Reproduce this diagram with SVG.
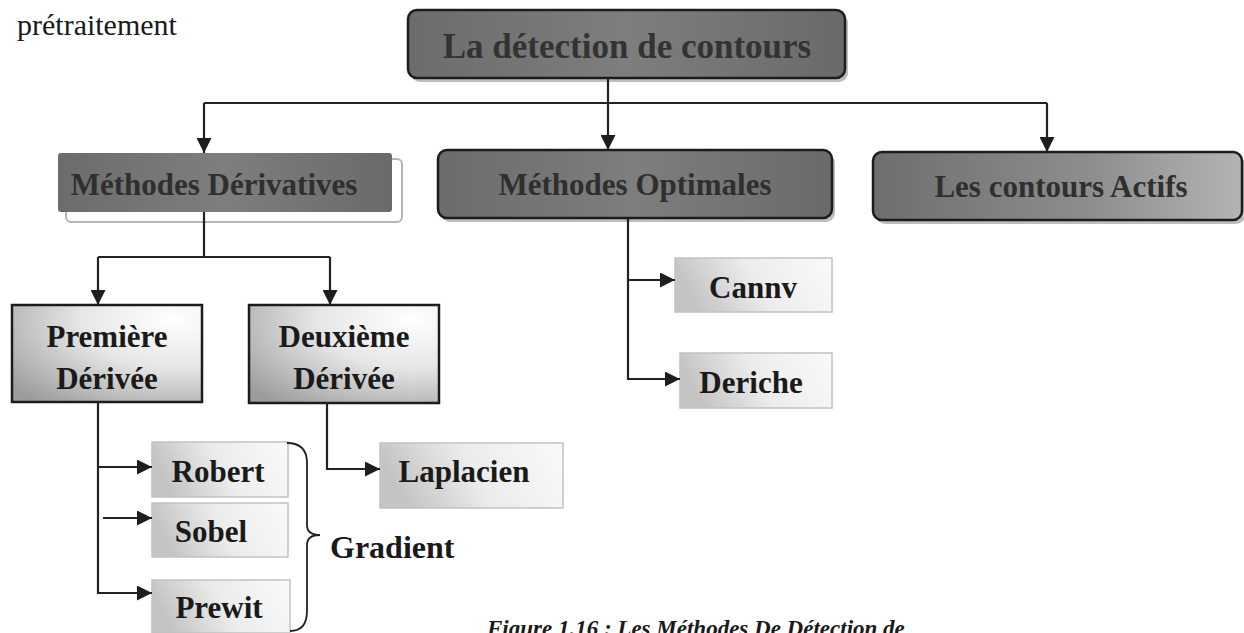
<svg xmlns="http://www.w3.org/2000/svg" width="1244" height="633" viewBox="0 0 1244 633">
  <defs>
    <linearGradient id="gDark" x1="0" y1="0" x2="1" y2="0">
      <stop offset="0" stop-color="#6c6c6c"/>
      <stop offset="0.5" stop-color="#7e7e7e"/>
      <stop offset="1" stop-color="#6a6a6a"/>
    </linearGradient>
    <linearGradient id="gActifs" x1="0" y1="0" x2="1" y2="0">
      <stop offset="0" stop-color="#6e6e6e"/>
      <stop offset="0.6" stop-color="#8e8e8e"/>
      <stop offset="1" stop-color="#b4b4b4"/>
    </linearGradient>
    <radialGradient id="gDeriv" cx="0.85" cy="0.15" r="1.1">
      <stop offset="0" stop-color="#ffffff"/>
      <stop offset="0.45" stop-color="#e6e6e6"/>
      <stop offset="1" stop-color="#9c9c9c"/>
    </radialGradient>
    <linearGradient id="gLight" x1="0" y1="0.2" x2="1" y2="0">
      <stop offset="0" stop-color="#c4c4c4"/>
      <stop offset="0.45" stop-color="#ececec"/>
      <stop offset="1" stop-color="#fafafa"/>
    </linearGradient>
    <marker id="arrow" viewBox="0 0 14 14" refX="14" refY="7" markerWidth="15" markerHeight="15" markerUnits="userSpaceOnUse" orient="auto">
      <path d="M0,0 L14,7 L0,14 Z" fill="#1e1e1e"/>
    </marker>
  </defs>
  <style>
    .lbl { font-family: "Liberation Serif", "Times New Roman", serif; font-weight: bold; text-anchor: middle; }
    .grey { fill: #2f2f2f; font-size: 31px; }
    .blk { fill: #1a1a1a; font-size: 31px; }
    .dark { fill: url(#gDark); stroke: #1c1c1c; stroke-width: 2.5; }
    .deriv { fill: url(#gDeriv); stroke: #1c1c1c; stroke-width: 2.5; }
    .light { fill: url(#gLight); stroke: #c2c2c2; stroke-width: 1.5; }
    .shadow { fill: #bdbdbd; }
    .conn { fill: none; stroke: #222; stroke-width: 2.2; }
  </style>

  <rect width="1244" height="633" fill="#ffffff"/>

  <text x="17" y="35" font-family="Liberation Serif, Times New Roman, serif" font-size="30" fill="#1a1a1a">prétraitement</text>

  <!-- root -->
  <g id="root">
    <rect class="shadow" x="411" y="14" width="437" height="68" rx="9"/>
    <rect class="dark" x="408" y="10" width="437" height="68" rx="9"/>
    <text class="lbl" x="627" y="58" font-size="35" fill="#333">La détection de contours</text>
  </g>

  <!-- first level -->
  <g id="methodes-derivatives">
    <rect x="66" y="159" width="336" height="63" rx="5" fill="#fff" stroke="#b4b4b4" stroke-width="2"/>
    <rect x="58" y="153" width="334" height="59" rx="3" fill="url(#gDark)"/>
    <text class="lbl grey" x="214" y="195">Méthodes Dérivatives</text>
  </g>
  <g id="methodes-optimales">
    <rect class="shadow" x="441" y="154" width="394" height="68" rx="9"/>
    <rect class="dark" x="438" y="150" width="394" height="68" rx="9"/>
    <text class="lbl grey" x="635" y="195">Méthodes Optimales</text>
  </g>
  <g id="contours-actifs">
    <rect class="shadow" x="876" y="156" width="369" height="68" rx="9"/>
    <rect x="873" y="152" width="369" height="68" rx="9" fill="url(#gActifs)" stroke="#1c1c1c" stroke-width="2.5"/>
    <text class="lbl grey" x="1061" y="197">Les contours Actifs</text>
  </g>

  <!-- derivative orders -->
  <g id="premiere-derivee">
    <rect class="deriv" x="12" y="305" width="190" height="97"/>
    <text class="lbl blk" x="107" y="347">Première</text>
    <text class="lbl blk" x="107" y="389">Dérivée</text>
  </g>
  <g id="deuxieme-derivee">
    <rect class="deriv" x="249" y="305" width="190" height="98"/>
    <text class="lbl blk" x="344" y="347">Deuxième</text>
    <text class="lbl blk" x="344" y="389">Dérivée</text>
  </g>

  <!-- operators -->
  <g id="robert">
    <rect class="light" x="152" y="442" width="136" height="55"/>
    <text class="lbl blk" x="218" y="482">Robert</text>
  </g>
  <g id="sobel">
    <rect class="light" x="152" y="503" width="136" height="54"/>
    <text class="lbl blk" x="211" y="542">Sobel</text>
  </g>
  <g id="prewit">
    <rect class="light" x="152" y="580" width="138" height="53"/>
    <text class="lbl blk" x="219" y="618">Prewit</text>
  </g>
  <g id="laplacien">
    <rect class="light" x="380" y="443" width="183" height="65"/>
    <text class="lbl blk" x="464" y="482">Laplacien</text>
  </g>
  <g id="canny">
    <rect class="light" x="675" y="258" width="157" height="54"/>
    <text class="lbl blk" x="753" y="298">Cannv</text>
  </g>
  <g id="deriche">
    <rect class="light" x="680" y="353" width="152" height="55"/>
    <text class="lbl blk" x="751" y="393">Deriche</text>
  </g>

  <!-- gradient grouping -->
  <g id="gradient">
    <path d="M287,443 Q307,443 307,463 V525 Q307,535 320,535 Q307,535 307,545 V611 Q307,631 290,631" fill="none" stroke="#222" stroke-width="1.8"/>
    <text x="330" y="558" font-family="Liberation Serif, Times New Roman, serif" font-weight="bold" font-size="32" fill="#1a1a1a">Gradient</text>
  </g>

  <g id="connectors" class="conn">
    <path d="M204,103 H1047"/>
    <path d="M608,78 V150" marker-end="url(#arrow)"/>
    <path d="M204,103 V153" marker-end="url(#arrow)"/>
    <path d="M1047,103 V152" marker-end="url(#arrow)"/>

    <path d="M204,212 V257"/>
    <path d="M98,257 H330"/>
    <path d="M98,257 V305" marker-end="url(#arrow)"/>
    <path d="M330,257 V305" marker-end="url(#arrow)"/>

    <path d="M98,402 V593 H152" marker-end="url(#arrow)"/>
    <path d="M98,467 H152" marker-end="url(#arrow)"/>
    <path d="M103,518 H152" marker-end="url(#arrow)"/>

    <path d="M327,403 V469 H380" marker-end="url(#arrow)"/>

    <path d="M628,218 V379 H680" marker-end="url(#arrow)"/>
    <path d="M628,280 H675" marker-end="url(#arrow)"/>
  </g>

  <!-- caption, running off the lower edge -->
  <text x="487" y="636" font-family="Liberation Serif, Times New Roman, serif" font-weight="bold" font-style="italic" font-size="23" fill="#1a1a1a">Figure 1.16 : Les Méthodes De Détection de</text>
</svg>
